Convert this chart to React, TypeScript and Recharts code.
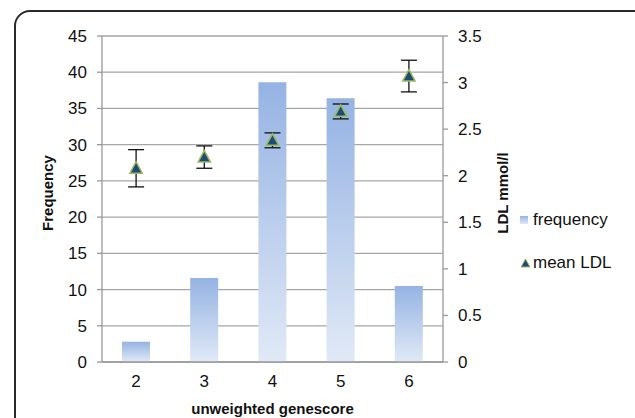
import React from 'react';
import { ComposedChart, Bar, Scatter, XAxis, YAxis, CartesianGrid, ErrorBar } from 'recharts';

const categories = ['2', '3', '4', '5', '6'];
const frequency = [2.8, 11.6, 38.6, 36.4, 10.5];
const meanLDL = [2.08, 2.2, 2.38, 2.69, 3.07];
const ldlError = [0.2, 0.12, 0.08, 0.08, 0.17];
const leftTicks = [0, 5, 10, 15, 20, 25, 30, 35, 40, 45];
const rightTicks = [0, 0.5, 1, 1.5, 2, 2.5, 3, 3.5];
const boundaryTicks = [0, 1, 2, 3, 4, 5];

const data = categories.map((c, i) => ({
  score: c,
  frequency: frequency[i],
  ldl: meanLDL[i],
  err: ldlError[i],
}));

const FONT = '"Liberation Sans", Arial, sans-serif';

const Triangle = (props: any) => {
  const { cx, cy } = props;
  if (cx == null || cy == null) return null;
  const s = 6.5;
  return (
    <polygon
      points={`${cx},${cy - s} ${cx - s * 0.95},${cy + s * 0.75} ${cx + s * 0.95},${cy + s * 0.75}`}
      fill="#1f4a7c"
      stroke="#9bbb59"
      strokeWidth={1.5}
    />
  );
};

export default function App() {
  return (
    <div style={{ position: 'absolute', left: 0, top: 0, width: 635, height: 418, overflow: 'hidden', background: '#fff', fontFamily: FONT }}>
      <div style={{ position: 'absolute', left: 14, top: 10, width: 640, height: 460, border: '2px solid #2a2a2a', borderRadius: 16, boxSizing: 'border-box' }} />
      <ComposedChart
        width={635}
        height={418}
        data={data}
        margin={{ top: 36, right: 122, left: 42, bottom: 26 }}
        style={{ position: 'absolute', left: 0, top: 0 }}
      >
        <defs>
          <linearGradient id="barGrad" x1="0" y1="0" x2="0" y2="1">
            <stop offset="0%" stopColor="#95b3e3" />
            <stop offset="100%" stopColor="#e1e9f6" />
          </linearGradient>
        </defs>
        <CartesianGrid vertical={false} stroke="#a6a6a6" strokeWidth={1.3} yAxisId="left" />
        <XAxis
          dataKey="score"
          xAxisId="main"
          tickLine={false}
          tickSize={0}
          tickMargin={13}
          axisLine={{ stroke: '#999', strokeWidth: 1.3 }}
          tick={{ fill: '#111', fontSize: 17, fontFamily: FONT }}
          height={30}
          label={(p: any) => {
            const vb = p.viewBox;
            return (
              <text x={vb.x + vb.width / 2} y={408} textAnchor="middle" dominantBaseline="central" fontFamily={FONT} fontWeight="bold" fontSize={15} fill="#111">
                unweighted genescore
              </text>
            );
          }}
        />
        <XAxis
          xAxisId="bounds"
          type="number"
          domain={[0, 5]}
          ticks={boundaryTicks}
          allowDataOverflow
          tick={false}
          tickSize={5}
          axisLine={false}
          tickLine={{ stroke: '#999', strokeWidth: 1.3 }}
          height={0}
        />
        <YAxis
          yAxisId="left"
          domain={[0, 45]}
          ticks={leftTicks}
          width={60}
          tickSize={5}
          tickMargin={10}
          axisLine={{ stroke: '#999', strokeWidth: 1.3 }}
          tickLine={{ stroke: '#999', strokeWidth: 1.3 }}
          tick={{ fill: '#111', fontSize: 17, fontFamily: FONT }}
          label={(p: any) => {
            const vb = p.viewBox;
            const x = 47;
            const y = vb.y + vb.height / 2 - 6;
            return (
              <text x={x} y={y} transform={`rotate(-90 ${x} ${y})`} textAnchor="middle" dominantBaseline="central" fontFamily={FONT} fontWeight="bold" fontSize={15} fill="#111">
                Frequency
              </text>
            );
          }}
        />
        <YAxis
          yAxisId="right"
          orientation="right"
          domain={[0, 3.5]}
          ticks={rightTicks}
          width={70}
          tickSize={5}
          tickMargin={10}
          axisLine={{ stroke: '#999', strokeWidth: 1.3 }}
          tickLine={{ stroke: '#999', strokeWidth: 1.3 }}
          tick={{ fill: '#111', fontSize: 17, fontFamily: FONT }}
          label={(p: any) => {
            const vb = p.viewBox;
            const x = 502;
            const y = vb.y + vb.height / 2 - 6;
            return (
              <text x={x} y={y} transform={`rotate(-90 ${x} ${y})`} textAnchor="middle" dominantBaseline="central" fontFamily={FONT} fontWeight="bold" fontSize={15} fill="#111">
                LDL mmol/l
              </text>
            );
          }}
        />
        <Bar dataKey="frequency" yAxisId="left" xAxisId="main" fill="url(#barGrad)" barSize={28} isAnimationActive={false} />
        <Scatter dataKey="ldl" yAxisId="right" xAxisId="main" shape={<Triangle />} isAnimationActive={false}>
          <ErrorBar dataKey="err" width={8} stroke="#111" strokeWidth={1.3} direction="y" />
        </Scatter>
      </ComposedChart>
      <div style={{ position: 'absolute', left: 520, top: 210, fontFamily: FONT, fontSize: 17, color: '#111' }}>
        <div style={{ display: 'flex', alignItems: 'center', height: 20 }}>
          <span style={{ display: 'inline-block', width: 8, height: 8, background: 'linear-gradient(#95b3e3, #e1e9f6)', marginRight: 5 }} />
          <span>frequency</span>
        </div>
        <div style={{ display: 'flex', alignItems: 'center', height: 20, marginTop: 23 }}>
          <svg width={11} height={10} style={{ marginRight: 2 }}>
            <polygon points="5.5,1 1,9 10,9" fill="#1f4a7c" stroke="#9bbb59" strokeWidth={1} />
          </svg>
          <span>mean LDL</span>
        </div>
      </div>
    </div>
  );
}
